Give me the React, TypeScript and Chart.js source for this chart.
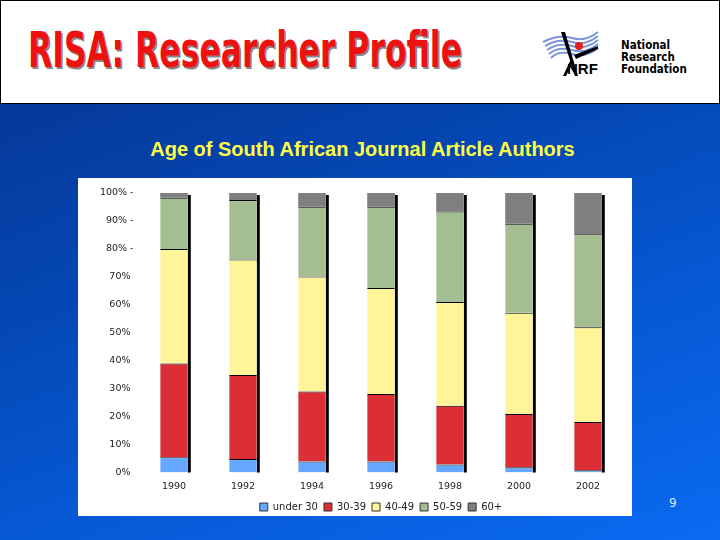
import React, { useEffect, useRef, useLayoutEffect } from "react";
import { Chart, registerables } from "chart.js";

Chart.register(...registerables);

const years = ["1990", "1992", "1994", "1996", "1998", "2000", "2002"];
const under30 = [5.5, 4.8, 3.9, 3.9, 2.9, 1.9, 0.8];
const age30to39 = [33.5, 30.1, 25.1, 24.2, 21.0, 19.0, 17.3];
const age40to49 = [41.0, 41.3, 41.1, 37.9, 37.1, 36.3, 33.9];
const age50to59 = [18.3, 21.3, 25.0, 29.1, 32.4, 31.8, 33.2];
const age60plus = [1.7, 2.5, 4.9, 4.9, 6.6, 11.0, 14.8];
const seriesNames = ["under 30", "30-39", "40-49", "50-59", "60+"];
const seriesColors = ["#66a8ff", "#dc2e35", "#fff497", "#a3bf92", "#7f7f7f"];
const yTicks = [0, 10, 20, 30, 40, 50, 60, 70, 80, 90, 100];

const FONT = "'DejaVu Sans', sans-serif";

const shadowPlugin = {
  id: "barShadow",
  beforeDatasetsDraw(chart: any) {
    const ctx = chart.ctx;
    const meta = chart.getDatasetMeta(0);
    const y = chart.scales.y;
    const top = y.getPixelForValue(100) + 2;
    const bottom = y.getPixelForValue(0);
    ctx.save();
    ctx.fillStyle = "#000";
    meta.data.forEach((bar: any) => {
      const props = bar.getProps(["x", "width"], true);
      ctx.fillRect(props.x + props.width / 2, top, 3, bottom - top);
    });
    ctx.restore();
  },
};

function ChartPanel() {
  const ref = useRef<HTMLCanvasElement | null>(null);
  useEffect(() => {
    if (!ref.current) return;
    const data = [under30, age30to39, age40to49, age50to59, age60plus];
    const chart = new Chart(ref.current, {
      type: "bar",
      data: {
        labels: years,
        datasets: data.map((d, i) => ({
          label: seriesNames[i],
          data: d,
          backgroundColor: seriesColors[i],
          borderColor: "#000",
          borderWidth: { top: i < data.length - 1 ? 1 : 0, left: 0, right: 0, bottom: 0 },
          borderSkipped: false,
          barPercentage: 0.4,
          categoryPercentage: 1,
        })),
      },
      options: {
        animation: false,
        responsive: false,
        layout: { padding: { left: 0, right: 9.5, top: 15, bottom: -6 } },
        scales: {
          x: {
            stacked: true,
            afterFit: (s: any) => {
              s.height = 23.5;
            },
            grid: { display: false, drawTicks: false },
            border: { display: false },
            ticks: { font: { family: FONT, size: 9.5 }, color: "#222", padding: 8 },
          },
          y: {
            stacked: true,
            min: 0,
            max: 100,
            afterFit: (s: any) => {
              s.width = 61.5;
            },
            afterBuildTicks: (s: any) => {
              s.ticks = yTicks.map((v) => ({ value: v }));
            },
            grid: { display: false, drawTicks: false },
            border: { display: false },
            ticks: {
              font: { family: FONT, size: 9.5 },
              color: "#222",
              padding: 6,
              callback: (v: any) => (Number(v) >= 80 ? v + "% -" : v + "% "),
            },
          },
        },
        plugins: {
          legend: {
            position: "bottom",
            fullSize: false,
            labels: {
              boxWidth: 8,
              boxHeight: 8,
              padding: 6,
              color: "#222",
              font: { family: FONT, size: 10 },
              generateLabels: (c: any) =>
                Chart.defaults.plugins.legend.labels
                  .generateLabels(c)
                  .map((l: any) => ({ ...l, lineWidth: 1, strokeStyle: "#333" })),
            },
          },
          tooltip: { enabled: false },
        },
      } as any,
      plugins: [shadowPlugin],
    });
    return () => chart.destroy();
  }, []);
  return <canvas ref={ref} width={554} height={338} style={{ display: "block" }} />;
}

function FitText({ text, width, style }: { text: string; width: number; style: any }) {
  const ref = useRef<HTMLSpanElement | null>(null);
  useLayoutEffect(() => {
    const el = ref.current;
    if (!el) return;
    el.style.transform = "none";
    const w = el.getBoundingClientRect().width;
    if (w > 0) el.style.transform = `scaleX(${width / w})`;
  }, [text, width]);
  return (
    <span ref={ref} style={{ display: "inline-block", whiteSpace: "nowrap", transformOrigin: "left top", ...style }}>
      {text}
    </span>
  );
}

function Logo() {
  return (
    <div style={{ position: "absolute", left: 540, top: 26, width: 160, height: 56 }}>
      <svg width={62} height={54} style={{ position: "absolute", left: 0, top: 0 }}>
        {[0, 1, 2, 3, 4].map((i) => (
          <path
            key={i}
            d={`M ${3 + i * 2} ${16 + i * 4} Q 18 ${8 + i * 4} 32 ${12 + i * 4} T 58 ${6 + i * 4}`}
            stroke="#7b96d8"
            strokeWidth={2}
            fill="none"
          />
        ))}
        <path d="M 21 6 L 35 50 L 38 50 L 25 6 Z" fill="#000" />
        <path d="M 23 50 L 31 33 L 33 36 L 26 50 Z" fill="#000" />
        <path d="M 34 29 L 58 20 L 58 23 L 36 33 Z" fill="#000" />
        <circle cx={39} cy={20} r={4} fill="#e02020" />
      </svg>
      <div
        style={{
          position: "absolute",
          left: 27,
          top: 34,
          font: "bold 15px 'Liberation Sans Narrow', 'Liberation Sans', Arial, sans-serif",
          color: "#000",
        }}
      >
        NRF
      </div>
      <div
        style={{
          position: "absolute",
          left: 81,
          top: 13,
          font: "bold 11.5px 'DejaVu Sans Condensed', 'Liberation Sans', sans-serif",
          lineHeight: "12px",
          color: "#000",
        }}
      >
        National
        <br />
        Research
        <br />
        Foundation
      </div>
    </div>
  );
}

export default function App() {
  useEffect(() => {
    document.body.style.margin = "0";
  }, []);
  return (
    <div
      style={{
        position: "relative",
        width: 720,
        height: 540,
        overflow: "hidden",
        background: "linear-gradient(160deg, #08318f 0%, #0444ad 35%, #0657d2 65%, #0a6af2 100%)",
      }}
    >
      <div
        style={{
          position: "absolute",
          left: 0,
          top: 0,
          width: 718,
          height: 102,
          background: "#fff",
          border: "1px solid #000",
        }}
      />
      <div style={{ position: "absolute", left: 28, top: 22 }}>
        <FitText
          text="RISA: Researcher Profile"
          width={434}
          style={{
            font: "bold 50px 'Liberation Sans Narrow', 'DejaVu Sans Condensed', sans-serif",
            color: "#ee1111",
            lineHeight: "56px",
            textShadow: "2px 2px 0 #888",
          }}
        />
      </div>
      <Logo />
      <div
        style={{
          position: "absolute",
          left: 0,
          width: 725,
          top: 138,
          textAlign: "center",
          font: "bold 20px 'Liberation Sans', Arial, sans-serif",
          color: "#ffff44",
        }}
      >
        Age of South African Journal Article Authors
      </div>
      <div style={{ position: "absolute", left: 78, top: 178, width: 554, height: 338, background: "#fff" }}>
        <ChartPanel />
      </div>
      <div
        style={{
          position: "absolute",
          left: 669,
          top: 496,
          font: "12px 'DejaVu Sans', sans-serif",
          color: "#d8ecff",
        }}
      >
        9
      </div>
    </div>
  );
}
